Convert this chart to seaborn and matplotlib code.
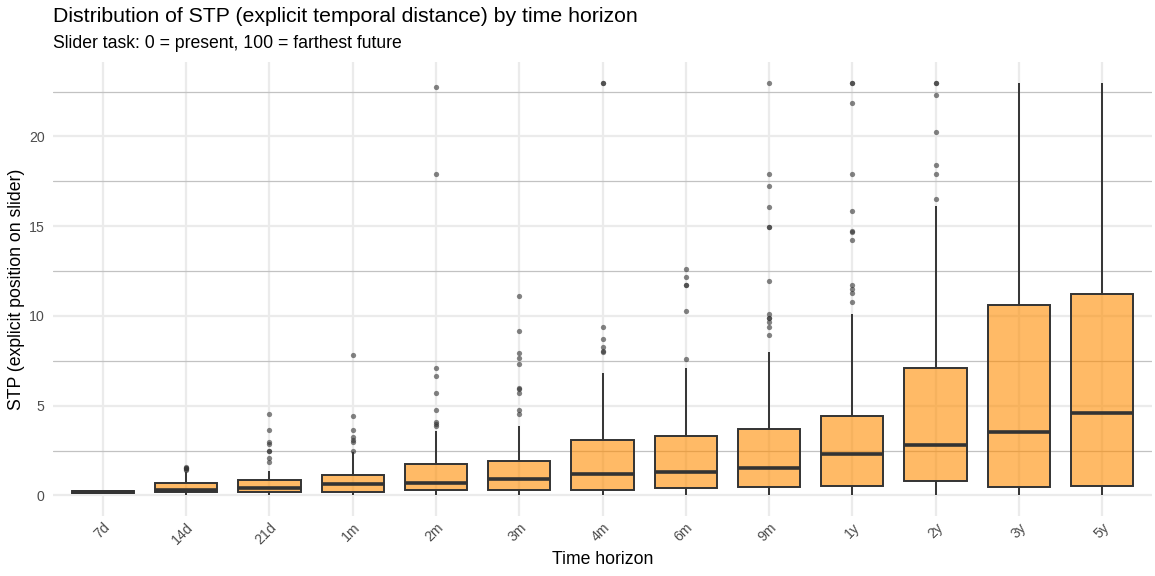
import numpy as np
import pandas as pd
import matplotlib
matplotlib.use("Agg")
import matplotlib.pyplot as plt
import seaborn as sns
from matplotlib.ticker import MultipleLocator

# ---- data ----
horizons = ["7d", "14d", "21d", "1m", "2m", "3m", "4m", "6m", "9m", "1y", "2y", "3y", "5y"]
whisker_low = [0.10, 0.0, 0.0, 0.0, 0.0, 0.0, 0.0, 0.0, 0.0, 0.0, 0.0, 0.0, 0.0]
q1 = [0.15, 0.19, 0.21, 0.19, 0.30, 0.30, 0.30, 0.41, 0.44, 0.52, 0.80, 0.46, 0.52]
median = [0.20, 0.30, 0.43, 0.63, 0.69, 0.89, 1.19, 1.30, 1.55, 2.29, 2.80, 3.55, 4.60]
q3 = [0.25, 0.69, 0.83, 1.15, 1.72, 1.91, 3.11, 3.29, 3.70, 4.43, 7.08, 10.60, 11.20]
whisker_high = [0.30, 1.30, 1.38, 2.40, 3.60, 3.85, 6.80, 7.10, 8.00, 10.10, 16.10, 23.0, 23.0]

outliers_14d = [1.40, 1.45, 1.50, 1.55, 1.60]
outliers_21d = [1.84, 2.06, 2.45, 2.50, 2.87, 2.96, 3.63, 4.56]
outliers_1m = [2.50, 2.96, 3.11, 3.26, 3.63, 4.44, 7.83]
outliers_2m = [3.87, 3.95, 4.09, 4.78, 5.71, 6.63, 7.09, 17.93, 22.78]
outliers_3m = [4.56, 4.78, 5.71, 5.94, 5.98, 7.33, 7.63, 7.91, 9.17, 11.13]
outliers_4m = [8.00, 8.02, 8.25, 8.69, 9.39, 23.0, 23.0]
outliers_6m = [7.60, 10.30, 11.70, 11.72, 12.17, 12.63]
outliers_9m = [8.94, 9.41, 9.65, 9.87, 9.89, 10.11, 11.94, 14.94, 14.96, 16.09, 17.24, 17.93, 23.0]
outliers_1y = [10.80, 11.26, 11.48, 11.70, 14.24, 14.70, 14.72, 15.85, 17.93, 21.85, 23.0, 23.0]
outliers_2y = [16.54, 17.93, 18.39, 20.24, 22.30, 23.0, 23.0]
outliers = {
    "14d": outliers_14d, "21d": outliers_21d, "1m": outliers_1m, "2m": outliers_2m,
    "3m": outliers_3m, "4m": outliers_4m, "6m": outliers_6m, "9m": outliers_9m,
    "1y": outliers_1y, "2y": outliers_2y,
}

# core samples reproducing the five-number summary of each box
rows = []
for h, lo, a, m, b, hi in zip(horizons, whisker_low, q1, median, q3, whisker_high):
    for v in [lo, a, a, m, b, b, hi]:
        rows.append((h, v))
df_box = pd.DataFrame(rows, columns=["horizon", "value"])
df_out = pd.DataFrame([(h, v) for h, vals in outliers.items() for v in vals],
                      columns=["horizon", "value"])

# ---- style ----
sns.set_theme(style="white")
plt.rcParams["font.family"] = ["Liberation Sans", "DejaVu Sans"]

fig = plt.figure(figsize=(11.55, 5.76), dpi=100)
ax = fig.add_axes([53 / 1155, 1 - 516 / 576, (1152 - 53) / 1155, (516 - 62) / 576])

sns.boxplot(
    data=df_box, x="horizon", y="value", order=horizons,
    color="darkorange", saturation=1, width=0.75, whis=(0, 100),
    showfliers=False, showcaps=False, linecolor="#333333", linewidth=1.4,
    boxprops={"facecolor": (1.0, 0.549, 0.0, 0.6)},
    medianprops={"linewidth": 2.6, "color": "#333333"},
    ax=ax,
)
sns.stripplot(
    data=df_out, x="horizon", y="value", order=horizons, jitter=False,
    color="#333333", alpha=0.6, size=3.8, linewidth=0, legend=False, ax=ax,
)

ax.set_axisbelow(True)
ax.yaxis.set_major_locator(MultipleLocator(5))
ax.yaxis.set_minor_locator(MultipleLocator(2.5))
ax.grid(True, which="major", axis="both", color="#EBEBEB", linewidth=1.6)
ax.grid(True, which="minor", axis="y", color="#C2C2C2", linewidth=0.9)
ax.xaxis.grid(True, which="major", color="#EBEBEB", linewidth=1.6)

ax.set_xlim(-0.6, len(horizons) - 0.4)
ax.set_ylim(-1.15, 24.15)
for s in ax.spines.values():
    s.set_visible(False)
ax.tick_params(axis="both", which="both", length=0, colors="#4D4D4D", labelsize=10.2)
ax.tick_params(axis="y", pad=6)
ax.tick_params(axis="x", pad=3)
for lab in ax.get_xticklabels():
    lab.set_rotation(45)
    lab.set_ha("right")
    lab.set_va("top")
    lab.set_rotation_mode("anchor")

ax.set_xlabel("Time horizon", fontsize=12.7, color="black", labelpad=3)
ax.set_ylabel("STP (explicit position on slider)", fontsize=12.7, color="black", labelpad=3)

fig.text(53 / 1155, 1 - 17 / 576, "Distribution of STP (explicit temporal distance) by time horizon",
         fontsize=15.3, ha="left", va="center", color="black")
fig.text(53 / 1155, 1 - 44 / 576, "Slider task: 0 = present, 100 = farthest future",
         fontsize=12.7, ha="left", va="center", color="black")

fig.savefig("out.png", dpi=100)
